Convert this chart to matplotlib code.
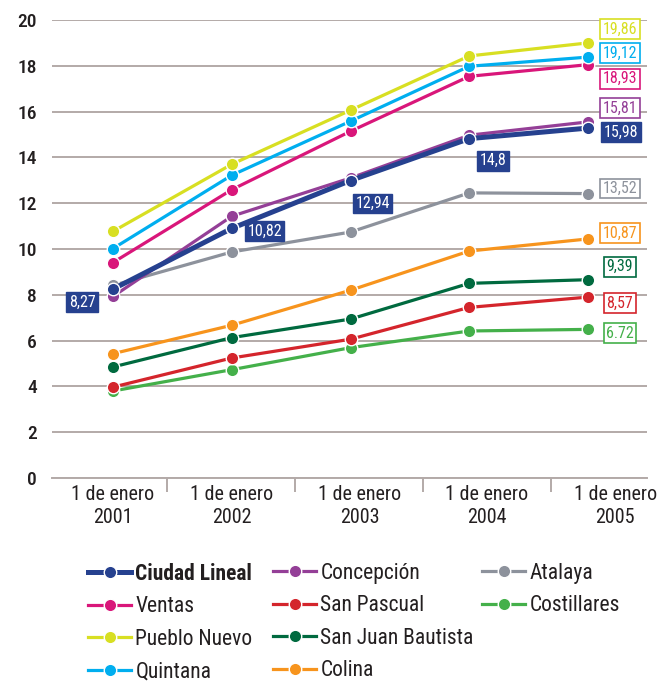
import matplotlib
matplotlib.use("Agg")
import matplotlib.pyplot as plt
from matplotlib.lines import Line2D
import numpy as np

plt.rcParams['font.family'] = ['Roboto Condensed', 'Archivo Narrow', 'DejaVu Sans']

# data
years = ['2001', '2002', '2003', '2004', '2005']
ciudad_lineal = [8.25, 10.90, 12.99, 14.82, 15.28]
concepcion = [7.93, 11.43, 13.10, 14.97, 15.55]
atalaya = [8.41, 9.87, 10.74, 12.45, 12.42]
ventas = [9.41, 12.59, 15.14, 17.54, 18.05]
san_pascual = [3.97, 5.24, 6.06, 7.45, 7.90]
costillares = [3.80, 4.73, 5.69, 6.42, 6.49]
pueblo_nuevo = [10.77, 13.70, 16.06, 18.43, 19.00]
san_juan = [4.85, 6.13, 6.94, 8.50, 8.66]
quintana = [10.02, 13.22, 15.58, 17.98, 18.38]
colina = [5.43, 6.67, 8.20, 9.91, 10.44]

cl_labels = ['8,27', '10,82', '12,94', '14,8', '15,98']
end_labels = {
    'Pueblo Nuevo': '19,86', 'Quintana': '19,12', 'Ventas': '18,93',
    'Concepción': '15,81', 'Atalaya': '13,52', 'Colina': '10,87',
    'San Juan Bautista': '9,39', 'San Pascual': '8,57', 'Costillares': '6.72',
}

series = {
    'Ciudad Lineal': (ciudad_lineal, '#26418f'),
    'Concepción': (concepcion, '#943f97'),
    'Atalaya': (atalaya, '#8d929c'),
    'Ventas': (ventas, '#d9167a'),
    'San Pascual': (san_pascual, '#d4252c'),
    'Costillares': (costillares, '#44b04a'),
    'Pueblo Nuevo': (pueblo_nuevo, '#d8df22'),
    'San Juan Bautista': (san_juan, '#006a3f'),
    'Quintana': (quintana, '#00aeef'),
    'Colina': (colina, '#f7941d'),
}

# label offsets in pixels (layout only)
cl_offsets = [(-31, -13), (33, -3), (22, -23), (24, -22), (33, -4)]
end_offsets = {
    'Pueblo Nuevo': 14, 'Quintana': 4, 'Ventas': -14, 'Concepción': 14,
    'Atalaya': 5, 'Colina': 6, 'San Juan Bautista': 13, 'San Pascual': -6,
    'Costillares': -4,
}

fig = plt.figure(figsize=(6.57, 6.83), dpi=100)
ax = fig.add_axes([52/657, 1 - 478/683, 595/657, 458/683])

grid_c = '#b3aaa8'
text_c = '#231f20'
x = np.arange(len(years))

draw_order = ['Atalaya', 'Concepción', 'Costillares', 'San Pascual', 'San Juan Bautista',
              'Colina', 'Ventas', 'Quintana', 'Pueblo Nuevo', 'Ciudad Lineal']
for name in draw_order:
    vals, c = series[name]
    lw = 3.6 if name == 'Ciudad Lineal' else 2.3
    ax.plot(x, vals, color=c, lw=lw, marker='o', ms=9, mfc=c, mec='white', mew=1.0,
            zorder=3, solid_capstyle='round')

# Ciudad Lineal labels
for i, (v, lab) in enumerate(zip(ciudad_lineal, cl_labels)):
    ax.annotate(lab, xy=(x[i], v), xytext=cl_offsets[i], textcoords='offset pixels',
                ha='center', va='center', fontsize=11.5, color='white',
                bbox=dict(boxstyle='square,pad=0.15', fc='#26418f', ec='#26418f'), zorder=5)

# end labels
for name, lab in end_labels.items():
    vals, c = series[name]
    ax.annotate(lab, xy=(x[-1], vals[-1]), xytext=(32, end_offsets[name]),
                textcoords='offset pixels', ha='center', va='center', fontsize=11.5,
                color=c, bbox=dict(boxstyle='square,pad=0.15', fc='white', ec=c, lw=1.2),
                zorder=5)

ax.set_ylim(0, 20)
ax.set_xlim(-0.514, 4.497)
ax.set_yticks(np.arange(0, 21, 2))
ax.tick_params(axis='y', length=0, pad=11, labelsize=14, labelcolor=text_c)
ax.yaxis.grid(True, color=grid_c, lw=1.4)
ax.set_axisbelow(True)
for s in ['top', 'right', 'left']:
    ax.spines[s].set_visible(False)
ax.spines['bottom'].set_color(grid_c)
ax.spines['bottom'].set_linewidth(1.4)

ax.set_xticks([0, 1.0, 2.08, 3.15, 4.23])
ax.set_xticklabels(['1 de enero\n' + y for y in years], fontsize=14.5, color=text_c,
                   linespacing=1.25)
ax.tick_params(axis='x', length=0, pad=5)
ax.set_xticks([0.455, 1.533, 2.611, 3.689], minor=True)
ax.tick_params(axis='x', which='minor', length=10, color=grid_c, width=1.4)
for t in ax.get_yticklabels():
    t.set_fontweight('medium')

# legend, three columns
columns = [
    ['Ciudad Lineal', 'Ventas', 'Pueblo Nuevo', 'Quintana'],
    ['Concepción', 'San Pascual', 'San Juan Bautista', 'Colina'],
    ['Atalaya', 'Costillares'],
]
col_x = [88/657, 273/657, 482/657]
for cx, names in zip(col_x, columns):
    handles = []
    for name in names:
        c = series[name][1]
        lw = 3.6 if name == 'Ciudad Lineal' else 2.3
        handles.append(Line2D([], [], color=c, lw=lw, marker='o', ms=9, mfc=c,
                              mec='white', mew=1.0))
    leg = fig.legend(handles, names, loc='upper left', bbox_to_anchor=(cx, 1 - 563/683),
                     frameon=False, fontsize=15.5, handlelength=2.0, handletextpad=0.2,
                     labelspacing=0.53, borderpad=0, borderaxespad=0)
    for t in leg.get_texts():
        t.set_color(text_c)
        if t.get_text() == 'Ciudad Lineal':
            t.set_fontweight('bold')

fig.savefig('out.png', dpi=100)
